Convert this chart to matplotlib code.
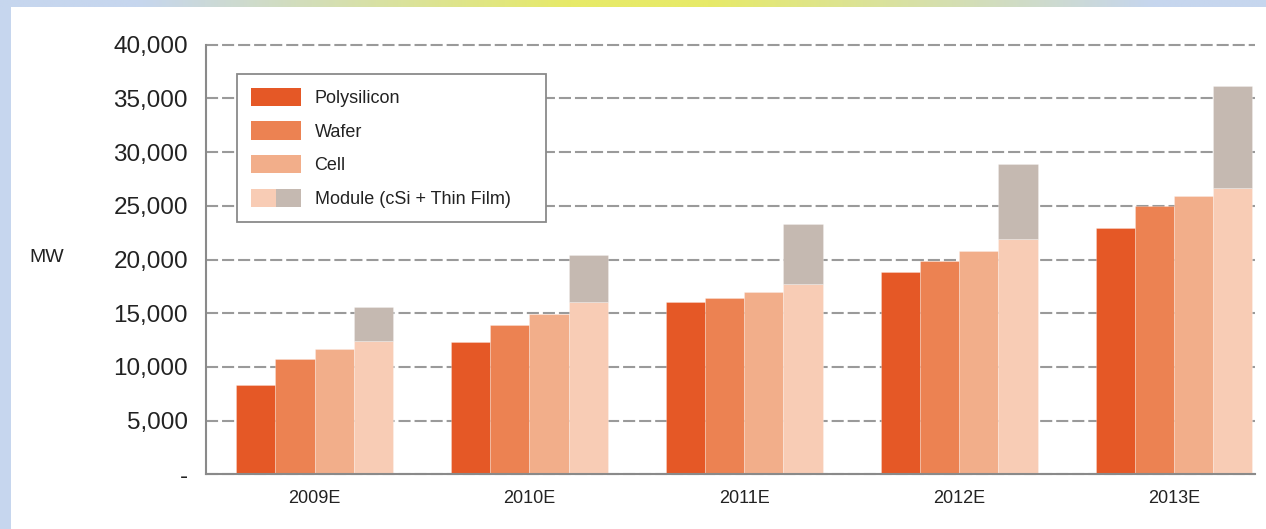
import numpy as np
import matplotlib
matplotlib.use('Agg')
import matplotlib.pyplot as plt
from matplotlib.patches import Rectangle, Patch
from matplotlib.legend_handler import HandlerTuple
from matplotlib.colors import to_rgb

# ---- data ----
years = ['2009E', '2010E', '2011E', '2012E', '2013E']
polysilicon = [8300, 12300, 16000, 18800, 22900]
wafer = [10700, 13900, 16400, 19900, 25000]
cell = [11700, 14900, 17000, 20800, 25900]
module_csi = [12400, 16000, 17700, 21900, 26700]
module_total = [15600, 20400, 23300, 28900, 36200]
y_ticks = [0, 5000, 10000, 15000, 20000, 25000, 30000, 35000, 40000]
y_tick_labels = ['-', '5,000', '10,000', '15,000', '20,000', '25,000', '30,000', '35,000', '40,000']
legend_labels = ['Polysilicon', 'Wafer', 'Cell', 'Module (cSi + Thin Film)']

thin_film = [t - c for t, c in zip(module_total, module_csi)]

# ---- style ----
plt.rcParams['font.family'] = ['Liberation Sans', 'DejaVu Sans']
c_poly = '#e55826'
c_wafer = '#ec8252'
c_cell = '#f2ae8a'
c_mod = '#f8ccb5'
c_tf = '#c5b9b1'
blue = '#c6d6ee'
yellow = '#e7ea68'
spine_c = '#8a8a8a'
grid_c = '#9a9a9a'
text_c = '#222222'

W, H = 1266, 529
fig = plt.figure(figsize=(W / 100, H / 100), dpi=100)
fig.patch.set_facecolor('white')

# decorative frame: left strip and top gradient
fig.add_artist(Rectangle((0, 0), 11 / W, 1, transform=fig.transFigure,
                         facecolor=blue, edgecolor='none', zorder=0))
axg = fig.add_axes([0, 1 - 7.3 / H, 1, 7.3 / H])
pts = np.array([0, 0.11, 0.45, 0.56, 0.91, 1.0])
cols = np.array([to_rgb(blue), to_rgb(blue), to_rgb(yellow), to_rgb(yellow), to_rgb(blue), to_rgb(blue)])
xs = np.linspace(0, 1, 600)
grad = np.stack([np.interp(xs, pts, cols[:, k]) for k in range(3)], axis=-1)[None, :, :]
axg.imshow(grad, aspect='auto', extent=(0, 1, 0, 1))
axg.set_axis_off()

# main axes
ax = fig.add_axes([206 / W, (H - 474.3) / H, (1255 - 206) / W, (474.3 - 44.7) / H])
x = np.arange(len(years))
w = 0.1826
offs = np.array([-1.5, -0.5, 0.5, 1.5]) * w
ec = (1, 1, 1, 0.35)
ax.bar(x + offs[0], polysilicon, w, color=c_poly, edgecolor=ec, linewidth=0.5, zorder=3)
ax.bar(x + offs[1], wafer, w, color=c_wafer, edgecolor=ec, linewidth=0.5, zorder=3)
ax.bar(x + offs[2], cell, w, color=c_cell, edgecolor=ec, linewidth=0.5, zorder=3)
ax.bar(x + offs[3], module_csi, w, color=c_mod, edgecolor=ec, linewidth=0.5, zorder=3)
ax.bar(x + offs[3], thin_film, w, bottom=module_csi, color=c_tf, edgecolor=ec, linewidth=0.5, zorder=3)

ax.set_xlim(-0.505, 4.377)
ax.set_ylim(0, 40000)
ax.set_xticks(x)
ax.set_xticklabels(years, fontsize=13, color=text_c)
ax.set_yticks(y_ticks)
ax.set_yticklabels(y_tick_labels, fontsize=17.5, color=text_c)
ax.tick_params(axis='both', length=0)
ax.tick_params(axis='y', pad=13)
ax.tick_params(axis='x', pad=11)

ax.yaxis.grid(True, linestyle=(0, (5.8, 1.9)), color=grid_c, linewidth=1.5)
ax.set_axisbelow(True)
for gl in ax.get_ygridlines():
    gl.set_clip_on(False)

for s in ['top', 'right']:
    ax.spines[s].set_visible(False)
for s in ['left', 'bottom']:
    ax.spines[s].set_color(spine_c)
    ax.spines[s].set_linewidth(1.5)
    ax.spines[s].set_zorder(4)

fig.text(47 / W, 1 - 257 / H, 'MW', ha='center', va='center', fontsize=14, color=text_c)

handles = [Patch(facecolor=c_poly, edgecolor='none'),
           Patch(facecolor=c_wafer, edgecolor='none'),
           Patch(facecolor=c_cell, edgecolor='none'),
           (Patch(facecolor=c_mod, edgecolor='none'), Patch(facecolor=c_tf, edgecolor='none'))]
leg = ax.legend(handles, legend_labels,
                handler_map={tuple: HandlerTuple(ndivide=None, pad=0)},
                loc='upper left', bbox_to_anchor=(0.0296, 0.5, 0.2946, 0.4318),
                mode='expand', borderaxespad=0, fontsize=13,
                handlelength=2.78, handleheight=1.17, handletextpad=0.76,
                borderpad=0.75, labelspacing=0.81, fancybox=False, framealpha=1,
                edgecolor=spine_c)
leg.get_frame().set_linewidth(1.3)
for t in leg.get_texts():
    t.set_color(text_c)
leg.set_zorder(5)

fig.savefig('out.png', dpi=100)
